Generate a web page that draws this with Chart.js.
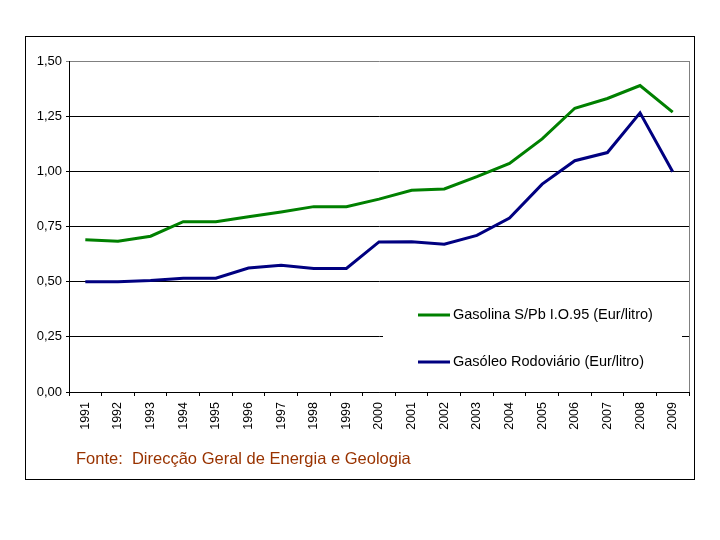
<!DOCTYPE html>
<html>
<head>
    <title>Preços dos combustíveis</title>
    <meta charset="UTF-8">
    <script src="https://cdn.jsdelivr.net/npm/chart.js@4.4.1/dist/chart.umd.min.js"></script>
    <style>
        body { margin: 0; background: #fff; }
        #wrap { position: relative; width: 720px; height: 540px; }
        #frame { position: absolute; left: 25px; top: 36px; width: 668px; height: 442px; border: 1px solid #000; }
        #myChart { position: absolute; left: 0; top: 0; }
        #fonte { position: absolute; left: 76px; top: 449px; font: 16.5px "Liberation Sans", Arial, sans-serif; color: #993300; white-space: pre; }
    </style>
</head>
<body>
<div id="wrap">
    <div id="frame"></div>
    <canvas id="myChart" width="720" height="540"></canvas>
    <div id="fonte">Fonte:  Direcção Geral de Energia e Geologia</div>
</div>
<script>
    const years = ['1991', '1992', '1993', '1994', '1995', '1996', '1997', '1998', '1999', '2000',
        '2001', '2002', '2003', '2004', '2005', '2006', '2007', '2008', '2009'];
    const gasolina = [0.69, 0.683, 0.706, 0.772, 0.772, 0.794, 0.816, 0.84, 0.84, 0.874,
        0.914, 0.92, 0.976, 1.036, 1.147, 1.286, 1.33, 1.389, 1.268];
    const gasoleo = [0.50, 0.50, 0.505, 0.515, 0.516, 0.562, 0.574, 0.56, 0.56, 0.68,
        0.681, 0.67, 0.71, 0.788, 0.942, 1.048, 1.085, 1.265, 0.998];
    const yTicks = [0, 0.25, 0.5, 0.75, 1, 1.25, 1.5];

    const font = 'Liberation Sans, Arial, sans-serif';

    // legend drawn inside the plot, on a white box that hides the grid
    const boxLegend = {
        id: 'boxLegend',
        afterDraw(chart) {
            const c = chart.ctx;
            const area = chart.chartArea;
            c.save();
            // right border of plot area
            c.strokeStyle = '#808080';
            c.lineWidth = 1;
            c.beginPath();
            c.moveTo(area.right + 0.5, area.top);
            c.lineTo(area.right + 0.5, area.bottom);
            c.stroke();

            c.fillStyle = '#fff';
            c.fillRect(383, 290, 299, 98);
            c.font = '14.5px ' + font;
            c.textBaseline = 'middle';
            const rows = [315, 362];
            chart.data.datasets.forEach((ds, i) => {
                c.strokeStyle = ds.borderColor;
                c.lineWidth = 3;
                c.beginPath();
                c.moveTo(418, rows[i]);
                c.lineTo(450, rows[i]);
                c.stroke();
                c.fillStyle = '#000';
                c.fillText(ds.label, 453, rows[i]);
            });
            c.restore();
        }
    };

    let ctx = document.getElementById('myChart').getContext('2d');
    let myChart = new Chart(ctx, {
        type: 'line',
        data: {
            labels: years,
            datasets: [
                {
                    label: 'Gasolina S/Pb I.O.95 (Eur/litro)',
                    data: gasolina,
                    borderColor: '#008000',
                    borderWidth: 3,
                    pointRadius: 0,
                    tension: 0
                },
                {
                    label: 'Gasóleo Rodoviário (Eur/litro)',
                    data: gasoleo,
                    borderColor: '#000080',
                    borderWidth: 3,
                    pointRadius: 0,
                    tension: 0
                }
            ]
        },
        options: {
            responsive: false,
            animation: false,
            layout: { padding: { left: 0, top: 61, right: 31, bottom: 0 } },
            plugins: {
                legend: { display: false },
                tooltip: { enabled: false }
            },
            scales: {
                x: {
                    offset: true,
                    grid: {
                        offset: true,
                        drawOnChartArea: false,
                        tickLength: 4,
                        color: '#000'
                    },
                    border: { color: '#000', width: 1 },
                    ticks: {
                        minRotation: 90,
                        maxRotation: 90,
                        padding: 6,
                        color: '#000',
                        font: { family: font, size: 12.5 }
                    },
                    afterFit(scale) { scale.height = 148; }
                },
                y: {
                    min: 0,
                    max: 1.5,
                    afterBuildTicks(scale) { scale.ticks = yTicks.map(v => ({ value: v })); },
                    grid: {
                        color: (c) => c.tick && c.tick.value === 1.5 ? '#808080' : '#000',
                        tickLength: 3,
                        lineWidth: 1
                    },
                    border: { color: '#000', width: 1 },
                    ticks: {
                        padding: 4,
                        color: '#000',
                        font: { family: font, size: 13 },
                        callback: (v) => v.toFixed(2).replace('.', ',')
                    },
                    afterFit(scale) { scale.width = 69; }
                }
            }
        },
        plugins: [boxLegend]
    });
</script>
</body>
</html>
